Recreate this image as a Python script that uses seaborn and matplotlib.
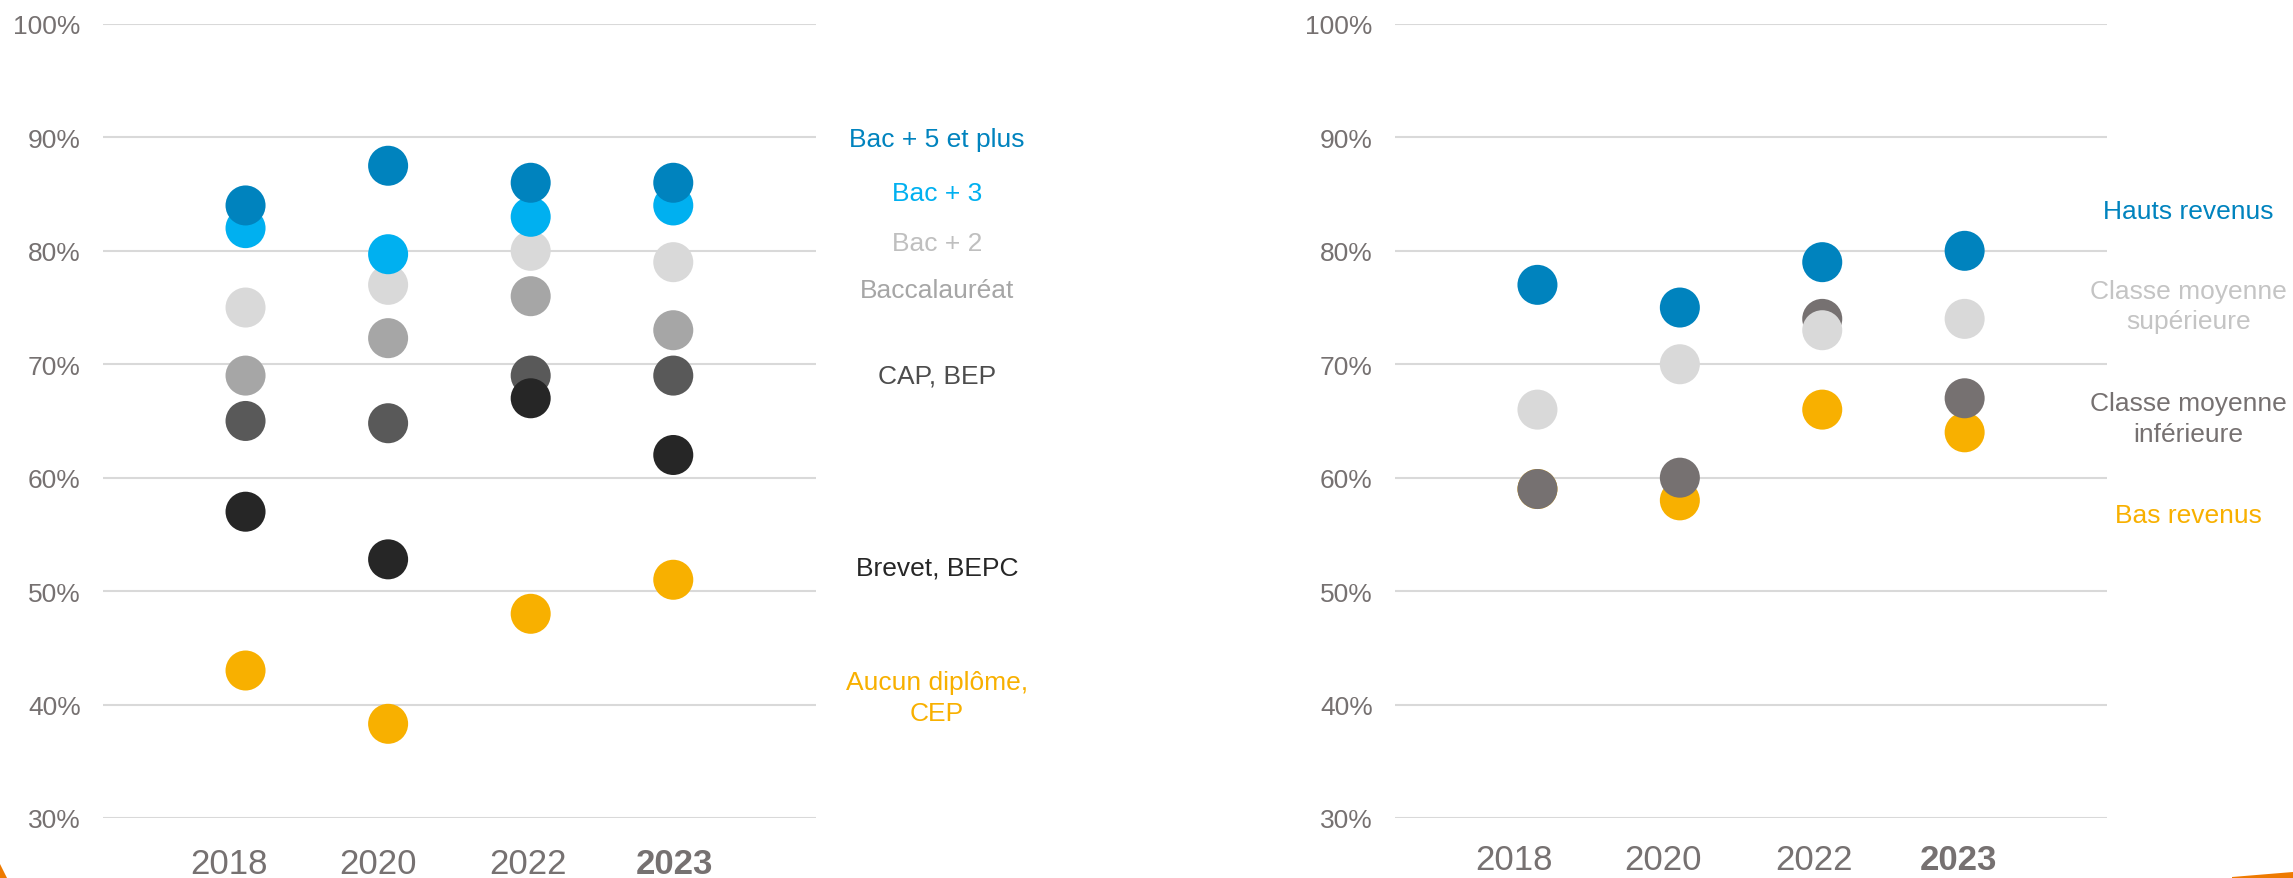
import matplotlib
matplotlib.use("Agg")
import matplotlib.pyplot as plt
import matplotlib.transforms as mtransforms
import seaborn as sns
import pandas as pd
from matplotlib.patches import Polygon

years = ["2018", "2020", "2022", "2023"]

# diplome (draw order: first drawn is at the bottom)
dip_names = ["Aucun diplôme,\nCEP", "CAP, BEP", "Brevet, BEPC", "Baccalauréat",
             "Bac + 2", "Bac + 3", "Bac + 5 et plus"]
aucun = [43, 38.3, 48, 51]
cap_bep = [65, 64.8, 69, 69]
brevet = [57, 52.8, 67, 62]
baccalaureat = [69, 72.3, 76, 73]
bac2 = [75, 77, 80, 79]
bac3 = [82, 79.7, 83, 84]
bac5 = [84, 87.5, 86, 86]
dip_values = [aucun, cap_bep, brevet, baccalaureat, bac2, bac3, bac5]
dip_colors = ["#F8B000", "#595959", "#262626", "#A6A6A6", "#D9D9D9", "#00B0F0", "#0083BE"]
dip_text_colors = ["#F8B000", "#4D4D4D", "#262626", "#A6A6A6", "#BFBFBF", "#00B0F0", "#0083BE"]
dip_label_y = [40.6, 69.05, 52.05, 76.55, 80.7, 85.1, 89.85]

# revenus
rev_names = ["Bas revenus", "Classe moyenne\ninférieure", "Classe moyenne\nsupérieure", "Hauts revenus"]
bas = [59, 58, 66, 64]
cm_inf = [59, 60, 74, 67]
cm_sup = [66, 70, 73, 74]
hauts = [77, 75, 79, 80]
rev_values = [bas, cm_inf, cm_sup, hauts]
rev_colors = ["#F8B000", "#767171", "#D9D9D9", "#0083BE"]
rev_text_colors = ["#F8B000", "#767171", "#C4C4C4", "#0083BE"]
rev_label_y = [56.7, 65.2, 75.15, 83.55]

# small horizontal shifts (px) of the year labels, as in the original
dip_tick_shift = [-17, -10, -3, 1]
rev_tick_shift = [-23, -17, -8, -6]

sns.set_theme(style="white")
plt.rcParams["font.family"] = ["Liberation Sans", "DejaVu Sans"]

fig = plt.figure(figsize=(22.93, 8.79), dpi=100)
ax1 = fig.add_axes([0.0449, 0.0683, 0.3109, 0.9033])
ax2 = fig.add_axes([0.6084, 0.0683, 0.3105, 0.9033])


def make_df(names, values):
    rows = []
    for n, vals in zip(names, values):
        for y, v in zip(years, vals):
            rows.append({"annee": y, "groupe": n, "valeur": v})
    return pd.DataFrame(rows)


def draw(ax, names, values, colors, text_colors, label_y, label_x, shifts, xpad):
    df = make_df(names, values)
    sns.scatterplot(data=df, x="annee", y="valeur", hue="groupe",
                    palette=dict(zip(names, colors)), s=830, linewidth=0,
                    legend=False, ax=ax, zorder=3, clip_on=False)
    ax.set_xlim(-1, 4)
    ax.set_ylim(30, 100)
    ax.set_yticks(range(30, 101, 10))
    ax.set_yticklabels([f"{t}%" for t in range(30, 101, 10)])
    ax.set_xticks(range(len(years)))
    ax.set_xticklabels(years)
    ax.set_xlabel("")
    ax.set_ylabel("")
    for sp in ax.spines.values():
        sp.set_visible(False)
    ax.grid(axis="y", color="#D9D9D9", linewidth=1.5)
    ax.grid(axis="x", visible=False)
    ax.set_axisbelow(True)
    ax.tick_params(axis="y", length=0, pad=16, labelsize=19, labelcolor="#767171")
    ax.tick_params(axis="x", length=0, pad=xpad, labelsize=25, labelcolor="#767171")
    labels = ax.get_xticklabels()
    labels[-1].set_fontweight("bold")
    for lab, dx in zip(labels, shifts):
        off = mtransforms.ScaledTranslation(dx / 100, 0, fig.dpi_scale_trans)
        lab.set_transform(lab.get_transform() + off)
    for n, c, yy in zip(names, text_colors, label_y):
        ax.text(label_x, yy, n, color=c, fontsize=19, ha="center", va="center",
                clip_on=False, linespacing=1.35)


draw(ax1, dip_names, dip_values, dip_colors, dip_text_colors, dip_label_y, 4.85, dip_tick_shift, 21)
draw(ax2, rev_names, rev_values, rev_colors, rev_text_colors, rev_label_y, 4.57, rev_tick_shift, 18)

W, H = 2293, 879
fig.patches.append(Polygon([(0 / W, 1 - 865 / H), (7 / W, 0), (0, 0)],
                           closed=True, transform=fig.transFigure,
                           color="#EE7A00", lw=0))
fig.patches.append(Polygon([(2232 / W, 1 - 878 / H), (1, 1 - 873 / H), (1, 0), (2232 / W, 0)],
                           closed=True, transform=fig.transFigure,
                           color="#EE7A00", lw=0))

fig.savefig("out.png", dpi=100, facecolor="white")
